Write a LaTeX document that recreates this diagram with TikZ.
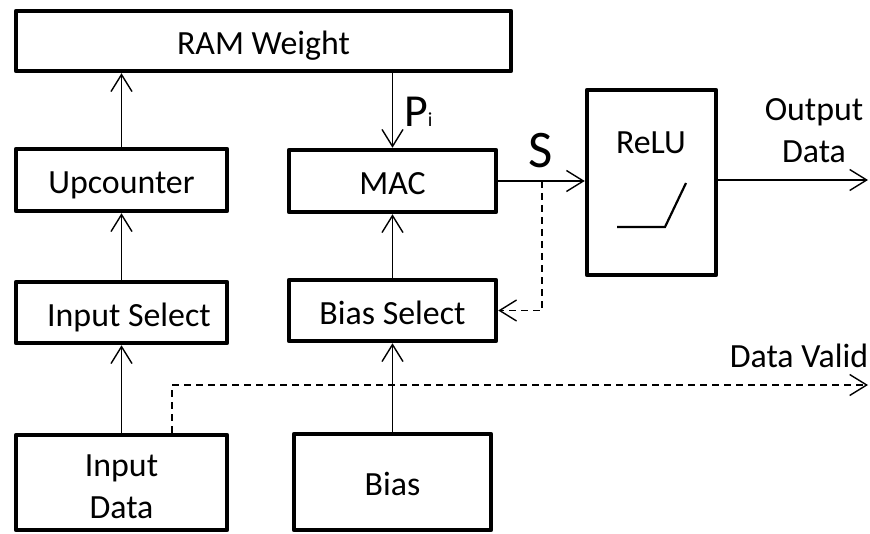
\documentclass[tikz,border=0pt]{standalone}
\usepackage{fontspec}
\setmainfont{Carlito}
\usetikzlibrary{arrows.meta}
\begin{document}
\begin{tikzpicture}[x=1bp, y=-1bp,
  frame/.style={draw, line width=4.5bp, line join=round, inner sep=0pt,
    font=\fontsize{34}{42}\selectfont},
  box/.style={frame, text height=31bp, text depth=4bp},
  lbl/.style={inner sep=0pt, font=\fontsize{34}{42}\selectfont},
  wire/.style={line width=1.4bp,
    -{Straight Barb[length=17bp, width=21bp, line width=1.4bp]}},
  dwire/.style={wire, dash pattern=on 7bp off 5bp}
]
\useasboundingbox (0,0) rectangle (870,534);

% blocks
\node[box, minimum width=495bp, minimum height=60bp] (ram)   at (263.5,41)    {RAM Weight};
\node[box, minimum width=211bp, minimum height=62bp] (upc)   at (121.5,180)   {Upcounter};
\node[box, minimum width=207bp, minimum height=62bp] (mac)   at (392.5,181)   {MAC};
\node[box, minimum width=211bp, minimum height=61bp] (isel)  at (121.5,312.5) {\hspace*{15bp}Input Select};
\node[box, minimum width=207bp, minimum height=61bp] (bsel)  at (392.5,310.5) {Bias Select};
\node[frame, minimum width=211bp, minimum height=95bp, align=center,
      text height=71bp, text depth=0pt] (idata) at (121.5,482.5) {Input\\Data};
\node[box, minimum width=197bp, minimum height=96bp] (bias)  at (392.5,482)   {Bias};
\node[frame, minimum width=129bp, minimum height=185bp] (relu) at (651.5,182.5) {};

% ReLU caption and transfer curve
\node[lbl, text height=22bp, text depth=0pt] (relulbl) at (651,143) {ReLU};
\draw[line width=2.2bp] (617,227) -- (665,227) -- (686,183);

% free labels
\node[lbl, align=center] (outlbl) at (814,131) {Output\\Data};
\node[anchor=base west, inner sep=0pt, font=\fontsize{46}{46}\selectfont] (pi) at (404,127)
  {P\fontsize{20}{20}\selectfont i};
\node[anchor=base, inner sep=0pt, font=\fontsize{53}{53}\selectfont] (slbl) at (541,168) {S};
\node[anchor=base, inner sep=0pt, font=\fontsize{34}{34}\selectfont] (dvlbl) at (799,367) {Data Valid};

% helper points
\coordinate (outend) at (868,180);
\coordinate (stap)   at (542,181);
\coordinate (dvbend) at (172,385);
\coordinate (dvend)  at (868,385);

% data paths
\draw[wire] (upc.north) -- (upc.north |- ram.south);
\draw[wire] (mac.north |- ram.south) -- (mac.north);
\draw[wire] (isel.north) -- (upc.south);
\draw[wire] (idata.north) -- (isel.south);
\draw[wire] (bias.north) -- (bsel.south);
\draw[wire] (bsel.north) -- (mac.south);
\draw[wire] (mac.east) -- (mac.east -| relu.west);
\draw[wire] (relu.east |- outend) -- (outend);

% control paths
\draw[dwire] (stap) -- (stap |- bsel.east) -- (bsel.east);
\draw[dwire] (dvbend |- idata.north) -- (dvbend) -- (dvend);
\end{tikzpicture}
\end{document}
